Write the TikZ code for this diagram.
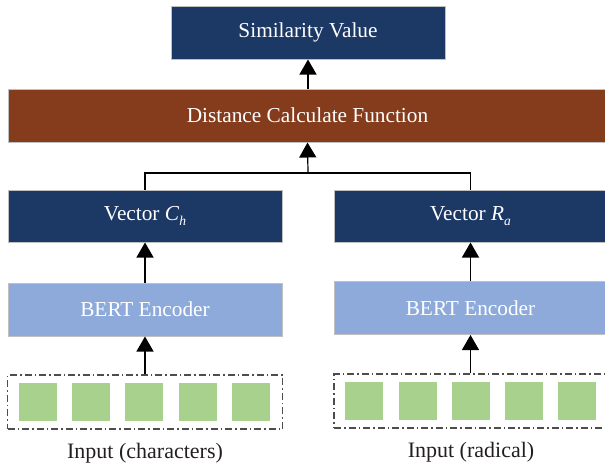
\documentclass[tikz,border=0pt]{standalone}
\usepackage{fontspec}
\setmainfont{Liberation Serif}
\usetikzlibrary{arrows.meta}

\definecolor{navy}{HTML}{1C3864}
\definecolor{rust}{HTML}{843C1C}
\definecolor{paleblue}{HTML}{8EAADB}
\definecolor{leaf}{HTML}{A9D18E}
\definecolor{rim}{HTML}{C0C0C0}
\definecolor{ink}{HTML}{231F20}

\newcommand{\subit}[2]{\textit{#1}\raisebox{-0.55ex}{\fontsize{13.5}{13.5}\selectfont\itshape #2}}

\begin{document}
\begin{tikzpicture}[x=1pt,y=-1pt,
  block/.style={draw=rim, line width=1pt, text=white, inner sep=0pt,
    font=\fontsize{21.3}{25}\selectfont, minimum height=53pt},
  darkblock/.style={block, fill=navy},
  funcblock/.style={block, fill=rust},
  encblock/.style={block, fill=paleblue},
  inframe/.style={draw=ink!80, line width=1.1pt,
    dash pattern=on 7pt off 3pt on 1.5pt off 3pt,
    minimum width=275pt, minimum height=54pt, inner sep=0pt},
  token/.style={fill=leaf, minimum width=38pt, minimum height=38pt, inner sep=0pt},
  caption/.style={text=ink, font=\fontsize{22}{26}\selectfont},
  link/.style={draw=black, line width=1.2pt},
  flow/.style={link, -{Triangle[width=17pt,length=15pt]}}
]
\useasboundingbox (0,0) rectangle (605,466);

% output and distance stages
\node[darkblock, minimum width=274pt] (sim) at (308,32.5) {Similarity Value};
\node[funcblock, minimum width=599pt] (dist) at (307.5,115.5) {Distance Calculate Function};

% vector representations
\node[darkblock, minimum width=274pt, minimum height=52pt] (vc) at (145,216) {Vector \subit{C}{h}};
\node[darkblock, minimum width=273pt, minimum height=52pt] (vr) at (470.5,216) {Vector \subit{R}{a}};

% encoders
\node[encblock, minimum width=274pt] (bc) at (145,309.5) {BERT Encoder};
\node[encblock, minimum width=273pt] (br) at (470.5,308) {BERT Encoder};

% input sequences
\node[inframe] (inc) at (145,402) {};
\node[inframe, minimum width=273pt] (inr) at (470.5,401) {};
\foreach \x [count=\i] in {38,91,144,198,251}
  \node[token] (tc\i) at (\x,402) {};
\foreach \x [count=\i] in {364,418,471,524,577}
  \node[token] (tr\i) at (\x,401) {};

\node[caption] (capc) at (145,453) {Input (characters)};
\node[caption] (capr) at (471,452) {Input (radical)};

% connectors
\coordinate (join) at (308,173);
\draw[flow] (inc.north) -- (bc.south);
\draw[flow] (inr.north) -- (br.south);
\draw[flow] (bc.north) -- (vc.south);
\draw[flow] (br.north) -- (vr.south);
\draw[link] (vc.north) |- (join) -| (vr.north);
\draw[flow] (join) -- (dist.south);
\draw[flow] (dist.north -| sim.south) -- (sim.south);
\end{tikzpicture}
\end{document}
